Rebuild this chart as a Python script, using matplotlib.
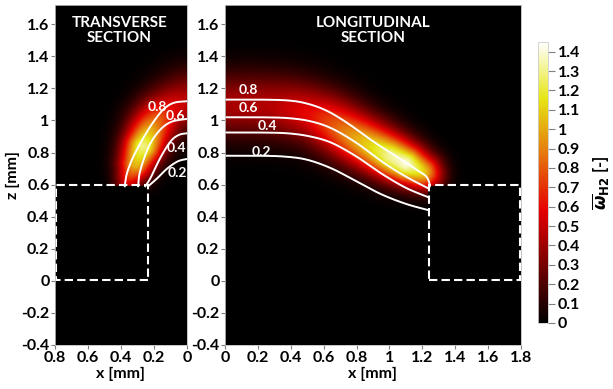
import numpy as np
import matplotlib
matplotlib.use("Agg")
import matplotlib.pyplot as plt
from matplotlib.colors import LinearSegmentedColormap
from matplotlib.patches import Rectangle

plt.rcParams['font.family'] = ['Lato', 'DejaVu Sans']
plt.rcParams['font.weight'] = 'bold'

# ---- data ----
z_ticks = [-0.4, -0.2, 0, 0.2, 0.4, 0.6, 0.8, 1, 1.2, 1.4, 1.6]
xt_ticks = [0.8, 0.6, 0.4, 0.2, 0]
xl_ticks = [0, 0.2, 0.4, 0.6, 0.8, 1, 1.2, 1.4, 1.6, 1.8]
cb_ticks = [0, 0.1, 0.2, 0.3, 0.4, 0.5, 0.6, 0.7, 0.8, 0.9, 1, 1.1, 1.2, 1.3, 1.4]
vmax = 1.45

# solid block (dashed outline) in each section: x0, x1, z0, z1
block_t = (0.235, 0.8, 0.0, 0.59)
block_l = (1.24, 1.8, 0.0, 0.59)

# plume ridge: x, z, peak value, half-width
ridge_t_x = [0.37, 0.31, 0.265, 0.2, 0.12, 0.0]
ridge_t_z = [0.60, 0.73, 0.84, 0.97, 1.06, 1.12]
ridge_t_a = [0.4, 1.05, 1.3, 0.9, 0.6, 0.45]
ridge_t_w = [0.05, 0.075, 0.085, 0.1, 0.11, 0.13]

ridge_l_x = [0.0, 0.3, 0.55, 0.8, 1.0, 1.1, 1.2, 1.27, 1.32]
ridge_l_z = [1.10, 1.09, 1.03, 0.89, 0.78, 0.73, 0.68, 0.66, 0.66]
ridge_l_a = [0.42, 0.46, 0.62, 1.0, 1.32, 1.4, 1.1, 0.45, 0.0]
ridge_l_w = [0.14, 0.14, 0.13, 0.115, 0.1, 0.09, 0.08, 0.06, 0.04]

levels = ['0.8', '0.6', '0.4', '0.2']

# iso-lines, transverse section
iso_t = {
    '0.8': [(0.377, 0.59), (0.364, 0.67), (0.327, 0.77), (0.265, 0.89), (0.204, 0.99),
            (0.142, 1.07), (0.08, 1.11), (0.0, 1.12)],
    '0.6': [(0.296, 0.59), (0.284, 0.685), (0.235, 0.83), (0.173, 0.93), (0.099, 0.99),
            (0.0, 1.01)],
    '0.4': [(0.253, 0.59), (0.222, 0.64), (0.16, 0.77), (0.099, 0.87), (0.049, 0.91),
            (0.0, 0.92)],
    '0.2': [(0.235, 0.59), (0.18, 0.64), (0.12, 0.70), (0.056, 0.745), (0.0, 0.76)],
}
lab_t = {'0.8': (0.18, 1.085), '0.6': (0.07, 1.03), '0.4': (0.065, 0.83), '0.2': (0.06, 0.67)}

# iso-lines, longitudinal section
iso_l = {
    '0.8': [(0.0, 1.13), (0.2, 1.13), (0.38, 1.125), (0.5, 1.105), (0.62, 1.06),
            (0.75, 0.98), (0.9, 0.87), (1.05, 0.77), (1.17, 0.69), (1.22, 0.655),
            (1.24, 0.62), (1.245, 0.59)],
    '0.6': [(0.0, 1.02), (0.2, 1.02), (0.38, 1.015), (0.52, 0.995), (0.65, 0.95),
            (0.8, 0.86), (0.96, 0.74), (1.1, 0.65), (1.24, 0.575)],
    '0.4': [(0.0, 0.925), (0.2, 0.925), (0.38, 0.92), (0.52, 0.9), (0.65, 0.86),
            (0.8, 0.775), (0.95, 0.67), (1.1, 0.58), (1.24, 0.52)],
    '0.2': [(0.0, 0.78), (0.2, 0.78), (0.36, 0.775), (0.5, 0.755), (0.65, 0.7),
            (0.8, 0.62), (0.95, 0.54), (1.1, 0.48), (1.24, 0.44)],
}
lab_l = {'0.8': (0.14, 1.19), '0.6': (0.14, 1.075), '0.4': (0.26, 0.965), '0.2': (0.22, 0.805)}


def smooth(pts, n=20):
    pts = np.asarray(pts, float)
    P = np.vstack([pts[0], pts, pts[-1]])
    t = np.linspace(0, 1, n, endpoint=False)[:, None]
    out = []
    for i in range(1, len(P) - 2):
        p0, p1, p2, p3 = P[i - 1], P[i], P[i + 1], P[i + 2]
        out.append(0.5 * (2 * p1 + (-p0 + p2) * t + (2 * p0 - 5 * p1 + 4 * p2 - p3) * t ** 2
                          + (-p0 + 3 * p1 - 3 * p2 + p3) * t ** 3))
    out.append(pts[-1:])
    return np.vstack(out)


def field(xr, zr, rx, rz, ra, rw, block):
    X, Z = np.meshgrid(np.linspace(*xr, 300), np.linspace(*zr, 500))
    line = smooth(list(zip(rx, rz)), 30)
    k = np.linspace(0, len(rx) - 1, len(line))
    amp = np.interp(k, np.arange(len(rx)), ra)
    wid = np.interp(k, np.arange(len(rx)), rw)
    F = np.zeros_like(X)
    for (px, pz), a, w in zip(line, amp, wid):
        F = np.maximum(F, a * np.exp(-((X - px) ** 2 + (Z - pz) ** 2) / (2 * w ** 2)))
    x0, x1, z0, z1 = block
    F[(X >= x0) & (X <= x1) & (Z >= z0) & (Z <= z1)] = 0
    return F


cmap = LinearSegmentedColormap.from_list('blackbody', [
    (0.0, (0, 0, 0)), (0.4, (0.90, 0.0, 0.0)), (0.6, (0.90, 0.46, 0.05)),
    (0.8, (0.90, 0.90, 0.08)), (1.0, (1, 1, 1))])

fig = plt.figure(figsize=(6.13, 3.89), dpi=100)
W, H = 613, 389
ax_t = fig.add_axes([55 / W, 44 / H, 132 / W, 340 / H])
ax_l = fig.add_axes([225 / W, 44 / H, 296 / W, 340 / H])
cax = fig.add_axes([538 / W, 66 / H, 10 / W, 281 / H])

zr = (-0.4, 1.72)
F_t = field((0, 0.8), zr, ridge_t_x, ridge_t_z, ridge_t_a, ridge_t_w, block_t)
F_l = field((0, 1.8), zr, ridge_l_x, ridge_l_z, ridge_l_a, ridge_l_w, block_l)

im = ax_t.imshow(F_t, extent=[0, 0.8, zr[0], zr[1]], origin='lower', cmap=cmap,
                 vmin=0, vmax=vmax, aspect='auto', interpolation='bilinear')
ax_l.imshow(F_l, extent=[0, 1.8, zr[0], zr[1]], origin='lower', cmap=cmap,
            vmin=0, vmax=vmax, aspect='auto', interpolation='bilinear')

for ax, iso, lab, block in [(ax_t, iso_t, lab_t, block_t), (ax_l, iso_l, lab_l, block_l)]:
    for lev in levels:
        c = smooth(iso[lev])
        ax.plot(c[:, 0], c[:, 1], color='white', lw=1.4)
        ax.text(*lab[lev], lev, color='white', fontsize=10, fontweight='bold',
                ha='center', va='center')
    x0, x1, z0, z1 = block
    ax.add_patch(Rectangle((x0, z0 + 0.005), x1 - x0 - 0.006, z1 - z0, fill=False,
                           ec='white', lw=1.5, ls=(0, (4, 2))))
    ax.set_ylim(*zr)
    ax.set_yticks(z_ticks)
    ax.set_yticklabels(['%g' % v for v in z_ticks])
    ax.set_xlabel('x [mm]', fontsize=11.5, fontweight='bold', labelpad=2)
    ax.tick_params(labelsize=11.5, length=3, width=0.8, color='gray', pad=1)
    for sp in ax.spines.values():
        sp.set_color('#bbbbbb')
        sp.set_linewidth(0.6)

ax_t.set_xlim(0.8, 0)
ax_t.set_xticks(xt_ticks)
ax_t.set_xticklabels(['%g' % v for v in xt_ticks])
ax_t.set_ylabel('z [mm]', fontsize=11.5, fontweight='bold', labelpad=1)
ax_l.set_xlim(0, 1.8)
ax_l.set_xticks(xl_ticks)
ax_l.set_xticklabels(['%g' % v for v in xl_ticks])

box = dict(facecolor='black', edgecolor='none', pad=3)
ax_t.text(0.49, 0.925, 'TRANSVERSE\nSECTION', transform=ax_t.transAxes, color='white',
          fontsize=11, fontweight='bold', ha='center', va='center', bbox=box, linespacing=1.05)
ax_l.text(0.5, 0.925, 'LONGITUDINAL\nSECTION', transform=ax_l.transAxes, color='white',
          fontsize=11, fontweight='bold', ha='center', va='center', bbox=box, linespacing=1.05)

cb = fig.colorbar(im, cax=cax, ticks=cb_ticks)
cb.ax.set_yticklabels(['%g' % v for v in cb_ticks])
cb.ax.tick_params(labelsize=11.5, length=5, width=0.8, color='gray', pad=2)
cb.outline.set_edgecolor('#cccccc')
cb.outline.set_linewidth(0.6)
cb.set_label(r'$\overline{\omega}_{\mathbf{H2}}$ [-]', fontsize=12, fontweight='bold',
             labelpad=8)

fig.savefig('out.png', dpi=100)
